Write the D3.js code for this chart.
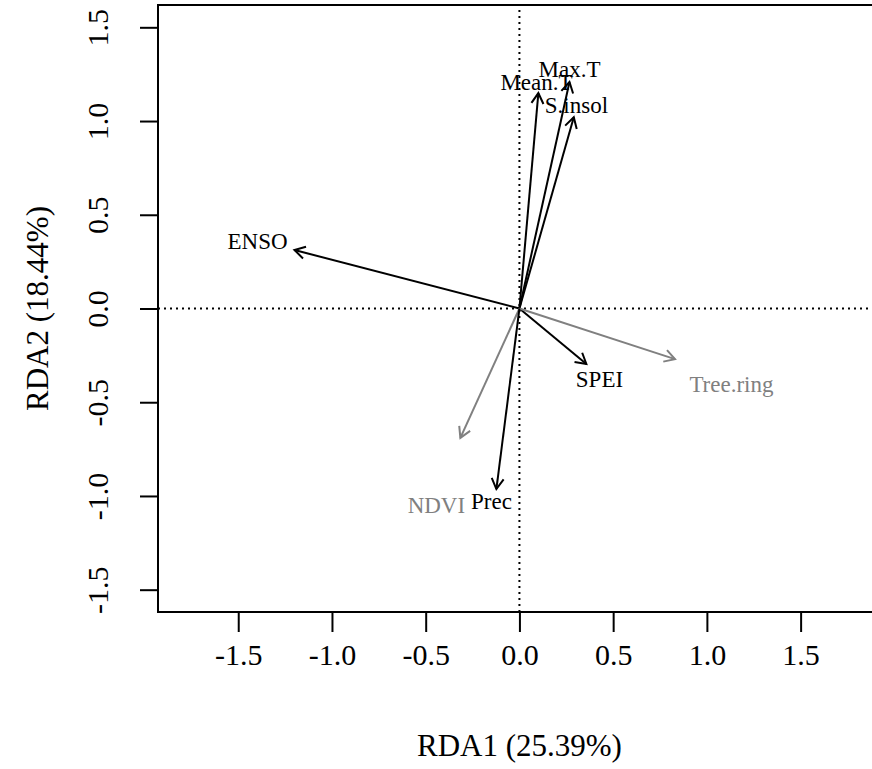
<!DOCTYPE html>
<html>
<head>
<meta charset="utf-8">
<script src="https://cdn.jsdelivr.net/npm/d3@7"></script>
<style>
  body { margin: 0; background: #fff; }
  svg { display: block; }
</style>
</head>
<body>
<div id="chart"></div>
<script>
// biplot arrows (RDA1, RDA2 scores)
var vars   = ["Max.T", "Mean.T", "S.insol", "ENSO", "SPEI", "Tree.ring", "NDVI", "Prec"];
var rda1   = [0.267, 0.101, 0.290, -1.200, 0.357, 0.830, -0.315, -0.123];
var rda2   = [1.208, 1.149, 1.020, 0.312, -0.296, -0.270, -0.690, -0.963];
var labX   = [0.267, 0.091, 0.304, -1.397, 0.427, 1.131, -0.443, -0.149];
var labY   = [1.277, 1.208, 1.085, 0.355, -0.381, -0.403, -1.053, -1.032];
var isResp = [false, false, false, false, false, true, true, false];
var ticks  = [-1.5, -1.0, -0.5, 0.0, 0.5, 1.0, 1.5];

var W = 872, H = 769
var margin = { top: 5, left: 158, bottom: 157 }
var xMin = -1.928, xMax = 1.928, yMin = -1.619, yMax = 1.619
var ppu = (612 - margin.top) / (yMax - yMin)   // same scale on both axes

var x = d3.scaleLinear().domain([xMin, xMax]).range([margin.left, margin.left + (xMax - xMin) * ppu])
var y = d3.scaleLinear().domain([yMin, yMax]).range([612, margin.top])

var svg = d3.select("#chart").append("svg")
  .attr("width", W).attr("height", H)
  .style("font-family", "'Liberation Serif', 'DejaVu Serif', serif")

var gray = "#808080"

// dotted zero lines
svg.append("line")
  .attr("x1", x(xMin)).attr("x2", x(xMax)).attr("y1", y(0)).attr("y2", y(0))
  .attr("stroke", "#000").attr("stroke-width", 2).attr("stroke-dasharray", "2,4")
svg.append("line")
  .attr("x1", x(0)).attr("x2", x(0)).attr("y1", y(yMin)).attr("y2", y(yMax))
  .attr("stroke", "#000").attr("stroke-width", 2).attr("stroke-dasharray", "2,4")

// arrows
var data = vars.map((v, i) => ({ name: v, x: rda1[i], y: rda2[i], lx: labX[i], ly: labY[i], resp: isResp[i] }))

function head(d) {
  var x0 = x(0), y0 = y(0), x1 = x(d.x), y1 = y(d.y)
  var a = Math.atan2(y1 - y0, x1 - x0), len = 12, sp = Math.PI / 6
  return "M" + (x1 - len * Math.cos(a - sp)) + "," + (y1 - len * Math.sin(a - sp)) +
    "L" + x1 + "," + y1 +
    "L" + (x1 - len * Math.cos(a + sp)) + "," + (y1 - len * Math.sin(a + sp))
}

var arrows = svg.append("g")
arrows.selectAll("line")
  .data(data)
  .join("line")
  .attr("x1", x(0)).attr("y1", y(0))
  .attr("x2", d => x(d.x)).attr("y2", d => y(d.y))
  .attr("stroke", d => d.resp ? gray : "#000")
  .attr("stroke-width", 2)
arrows.selectAll("path")
  .data(data)
  .join("path")
  .attr("d", head)
  .attr("fill", "none")
  .attr("stroke", d => d.resp ? gray : "#000")
  .attr("stroke-width", 2)

svg.append("g").selectAll("text")
  .data(data)
  .join("text")
  .attr("x", d => x(d.lx))
  .attr("y", d => y(d.ly))
  .attr("text-anchor", "middle")
  .attr("dominant-baseline", "central")
  .attr("font-size", "23px")
  .attr("fill", d => d.resp ? gray : "#000")
  .text(d => d.name)

// box
svg.append("rect")
  .attr("x", x(xMin)).attr("y", y(yMax))
  .attr("width", x(xMax) - x(xMin)).attr("height", y(yMin) - y(yMax))
  .attr("fill", "none").attr("stroke", "#000").attr("stroke-width", 2)

// axes
var fmt = d => d.toFixed(1)
var xAxis = svg.append("g")
  .attr("transform", `translate(0, ${y(yMin)})`)
  .call(d3.axisBottom(x).tickValues(ticks).tickFormat(fmt).tickSize(20).tickPadding(12))
xAxis.select(".domain").remove()
xAxis.selectAll("line").attr("stroke-width", 2)
xAxis.selectAll("text").attr("font-size", "30px").attr("font-family", "'Liberation Serif', serif").attr("fill", "#000")

var yAxis = svg.append("g")
  .attr("transform", `translate(${x(xMin)}, 0)`)
  .call(d3.axisLeft(y).tickValues(ticks).tickFormat(fmt).tickSize(18).tickPadding(0))
yAxis.select(".domain").remove()
yAxis.selectAll("line").attr("stroke-width", 2)
yAxis.selectAll("text")
  .attr("font-size", "30px").attr("font-family", "'Liberation Serif', serif").attr("fill", "#000")
  .attr("x", 0).attr("y", 0).attr("dy", null)
  .attr("text-anchor", "middle")
  .attr("dominant-baseline", "central")
  .attr("transform", "translate(-61, 0) rotate(-90)")

// titles
svg.append("text")
  .attr("x", x(0)).attr("y", 745)
  .attr("text-anchor", "middle").attr("dominant-baseline", "central")
  .attr("font-size", "31px")
  .text("RDA1 (25.39%)")
svg.append("text")
  .attr("transform", `translate(37, ${y(0)}) rotate(-90)`)
  .attr("text-anchor", "middle").attr("dominant-baseline", "central")
  .attr("font-size", "31px")
  .text("RDA2 (18.44%)")
</script>
</body>
</html>
